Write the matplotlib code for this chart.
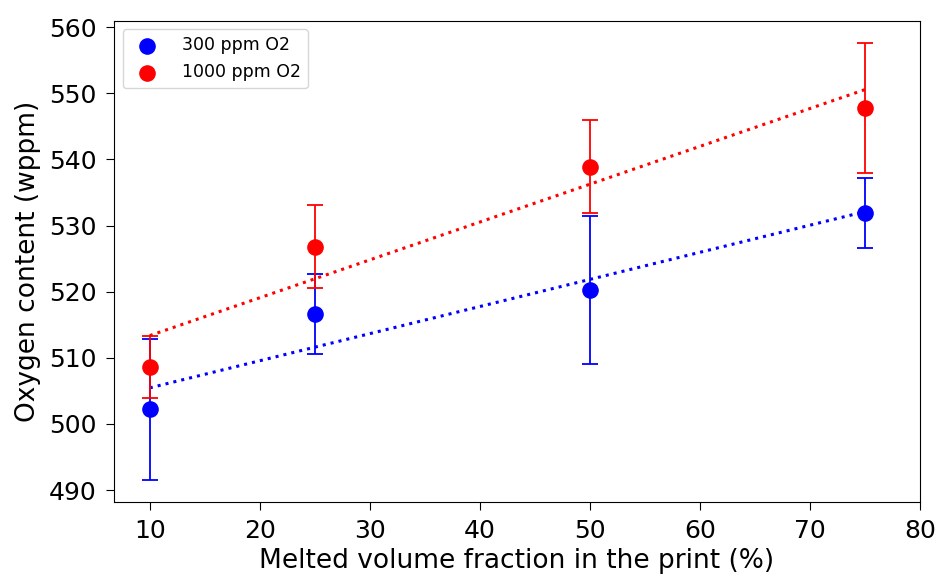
import numpy as np
import matplotlib
matplotlib.use("Agg")
import matplotlib.pyplot as plt

x = [10, 25, 50, 75]
y_300 = [502.2, 516.6, 520.3, 531.9]
err_300 = [10.7, 6.0, 11.2, 5.3]
y_1000 = [508.6, 526.8, 538.9, 547.8]
err_1000 = [4.7, 6.3, 7.05, 9.85]
labels = ["300 ppm O2", "1000 ppm O2"]
colors = ["blue", "red"]

fig = plt.figure(figsize=(9.36, 5.77), dpi=100)
ax = fig.add_axes([0.1218, 0.130, 0.8612, 0.834])

for yv, ev, lab, c in [(y_300, err_300, labels[0], colors[0]), (y_1000, err_1000, labels[1], colors[1])]:
    ax.errorbar(x, yv, yerr=ev, fmt='none', ecolor=c, elinewidth=1.3, capsize=6, capthick=1.3)
    ax.scatter(x, yv, color=c, s=120, zorder=3, label=lab)
    k, b = np.polyfit(x, yv, 1)
    xs = np.array([min(x), max(x)])
    ax.plot(xs, k * xs + b, linestyle=':', color=c, linewidth=2.2)

ax.set_xlim(right=80)
ax.set_xticks([10, 20, 30, 40, 50, 60, 70, 80])
ax.set_yticks([490, 500, 510, 520, 530, 540, 550, 560])
ax.tick_params(labelsize=18, length=5.5, pad=7)
ax.set_xlabel("Melted volume fraction in the print (%)", fontsize=19, labelpad=3)
ax.set_ylabel("Oxygen content (wppm)", fontsize=19, labelpad=6)
ax.legend(loc="upper left", fontsize=12.5, scatterpoints=1, handletextpad=1.0)

fig.savefig("out.png", dpi=100)
